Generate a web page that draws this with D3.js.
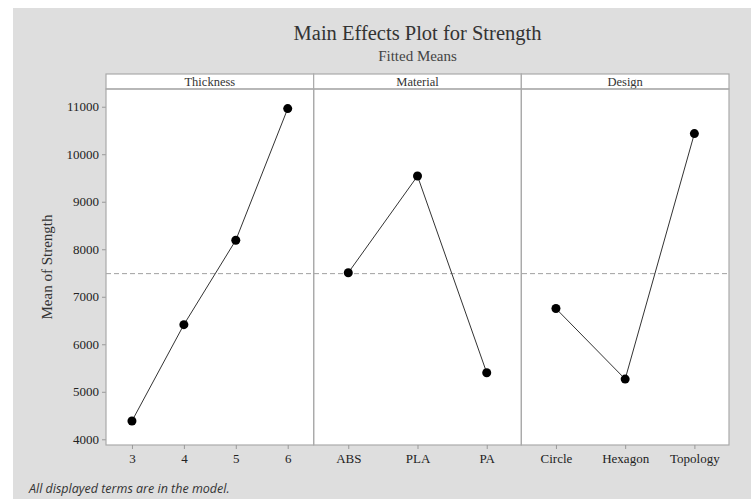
<!DOCTYPE html>
<html><head><meta charset="utf-8">
<script src="https://cdn.jsdelivr.net/npm/d3@7/dist/d3.min.js"></script>
<style>body{margin:0;background:#fff}svg{display:block}</style>
</head><body>
<svg id="c" width="751" height="499"></svg>
<script>
const factors = ["Thickness", "Material", "Design"];
const thicknessLevels = ["3", "4", "5", "6"];
const thicknessMeans = [4385, 6413, 8190, 10960];
const materialLevels = ["ABS", "PLA", "PA"];
const materialMeans = [7505, 9541, 5400];
const designLevels = ["Circle", "Hexagon", "Topology"];
const designMeans = [6752, 5267, 10434];
const overallMean = 7487;
const yTicks = [4000, 5000, 6000, 7000, 8000, 9000, 10000, 11000];

(function () {
const panels = [
  {name: factors[0], levels: thicknessLevels, means: thicknessMeans},
  {name: factors[1], levels: materialLevels, means: materialMeans},
  {name: factors[2], levels: designLevels, means: designMeans}
];

const svg = d3.select("#c");
const W = 751, H = 499;
svg.append("rect").attr("x", 13).attr("y", 8).attr("width", W - 13).attr("height", H - 8).attr("fill", "#dedede");

const pLeft = 106, pRight = 729, stripTop = 74, pTop = 89, pBottom = 445;
const serif = "'Liberation Serif','Times New Roman',serif";

const y = d3.scaleLinear().domain([3880, 11373]).range([pBottom, pTop]);
const outer = d3.scaleBand().domain(factors).range([pLeft, pRight]).paddingInner(0).paddingOuter(0);

svg.append("rect").attr("x", pLeft).attr("y", pTop).attr("width", pRight - pLeft).attr("height", pBottom - pTop).attr("fill", "#fff");

svg.append("text").attr("x", (pLeft + pRight) / 2).attr("y", 40).attr("text-anchor", "middle")
  .attr("font-family", serif).attr("font-size", 20.5).attr("fill", "#333").text("Main Effects Plot for Strength");
svg.append("text").attr("x", (pLeft + pRight) / 2).attr("y", 61).attr("text-anchor", "middle")
  .attr("font-family", serif).attr("font-size", 15).attr("fill", "#444").text("Fitted Means");

const yAxis = d3.axisLeft(y).tickValues(yTicks).tickSize(4).tickPadding(3).tickFormat(d3.format("d"));
const ga = svg.append("g").attr("transform", `translate(${pLeft},0)`).call(yAxis).attr("font-family", serif);
ga.select(".domain").remove();
ga.selectAll("line").attr("stroke", "#999");
ga.selectAll("text").style("font-family", serif).attr("font-size", 13).attr("fill", "#222");

svg.append("text").attr("transform", `translate(52,${(pTop + pBottom) / 2}) rotate(-90)`).attr("text-anchor", "middle")
  .attr("font-family", serif).attr("font-size", 15).attr("fill", "#333").text("Mean of Strength");

svg.append("line").attr("x1", pLeft).attr("x2", pRight).attr("y1", y(overallMean)).attr("y2", y(overallMean))
  .attr("stroke", "#a0a0a0").attr("stroke-width", 1).attr("stroke-dasharray", "5,3");

panels.forEach(p => {
  const x0 = outer(p.name), bw = outer.bandwidth();
  const x = d3.scalePoint().domain(p.levels).range([x0, x0 + bw]).padding(0.5);
  svg.append("rect").attr("x", x0).attr("y", stripTop).attr("width", bw).attr("height", pTop - stripTop)
    .attr("fill", "#fff").attr("stroke", "#aaa").attr("stroke-width", 1.2);
  svg.append("text").attr("x", x0 + bw / 2).attr("y", pTop - 3.5).attr("text-anchor", "middle")
    .attr("font-family", serif).attr("font-size", 12.5).attr("fill", "#333").text(p.name);
  svg.append("rect").attr("x", x0).attr("y", pTop).attr("width", bw).attr("height", pBottom - pTop)
    .attr("fill", "none").attr("stroke", "#aaa").attr("stroke-width", 1.2);
  const xa = d3.axisBottom(x).tickSize(4).tickPadding(5);
  const gx = svg.append("g").attr("transform", `translate(0,${pBottom})`).call(xa).attr("font-family", serif);
  gx.select(".domain").remove();
  gx.selectAll("line").attr("stroke", "#999");
  gx.selectAll("text").style("font-family", serif).attr("font-size", 13).attr("fill", "#222");
  const pts = p.levels.map((l, i) => [x(l), y(p.means[i])]);
  svg.append("path").attr("d", d3.line()(pts)).attr("fill", "none").attr("stroke", "#333").attr("stroke-width", 1);
  svg.selectAll(null).data(pts).enter().append("circle").attr("cx", d => d[0]).attr("cy", d => d[1])
    .attr("r", 4.5).attr("fill", "#000");
});

svg.append("text").attr("x", 29).attr("y", 493).attr("font-family", "'Open Sans','Noto Sans',sans-serif")
  .attr("font-style", "italic").attr("font-size", 12.5).attr("fill", "#333").text("All displayed terms are in the model.");
})();
</script>
</body></html>
